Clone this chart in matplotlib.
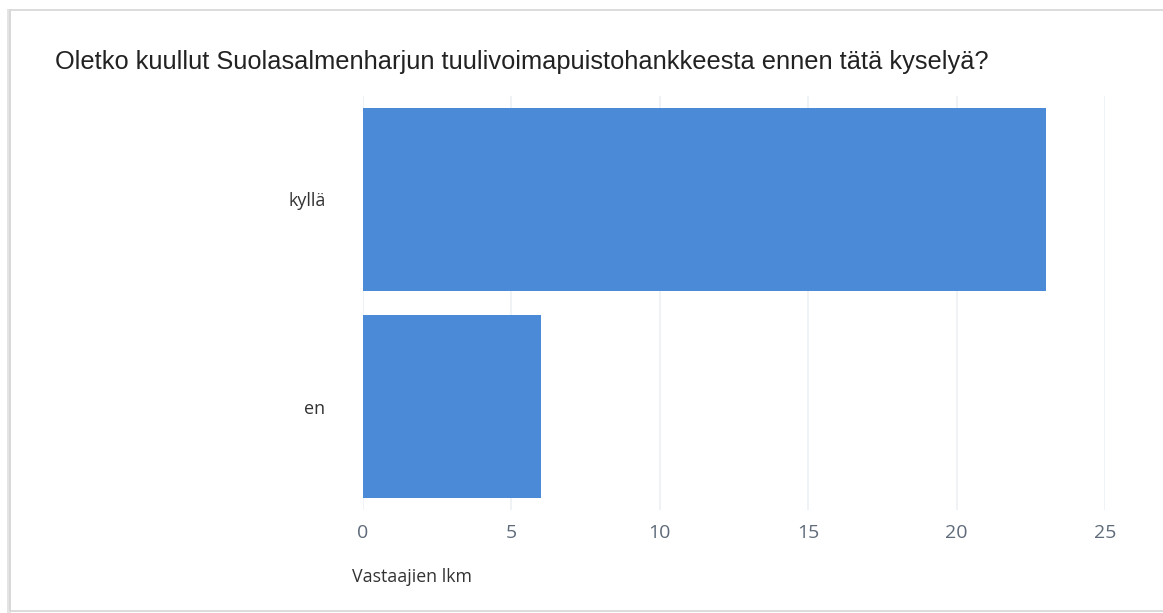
import matplotlib.pyplot as plt
import matplotlib.patches as patches

# data
categories = ['kyllä', 'en']
counts = [23, 6]
x_ticks = [0, 5, 10, 15, 20, 25]

title = 'Oletko kuullut Suolasalmenharjun tuulivoimapuistohankkeesta ennen tätä kyselyä?'
x_label = 'Vastaajien lkm'

W, H = 1163, 613
fig = plt.figure(figsize=(W / 100, H / 100), dpi=100)

# card frame with a faint shadow on the left
fig.add_artist(patches.Rectangle((7 / W, 0), 4 / W, 1 - 9 / H, transform=fig.transFigure,
                                 facecolor='#e4e4e4', edgecolor='none', zorder=-2))
fig.add_artist(patches.Rectangle((10 / W, 2 / H), 1.2, 1 - 12 / H, transform=fig.transFigure,
                                 facecolor='none', edgecolor='#d6d6d6', linewidth=1.2, zorder=-1))

ax = fig.add_axes([363 / W, 1 - 510 / H, (1105 - 363) / W, (510 - 96) / H])
ax.patch.set_alpha(0)
ypos = list(range(len(categories)))
ax.barh(ypos, counts, height=0.88, color='#4B8AD6', zorder=3)
ax.set_ylim(len(categories) - 0.5, -0.5)
ax.set_xlim(0, 25)
ax.set_yticks(ypos)
ax.set_yticklabels(categories, fontfamily='Open Sans', fontsize=13, color='#333333')
ax.set_xticks(x_ticks)
ax.set_xticklabels([str(t) for t in x_ticks], fontfamily='Open Sans', fontsize=14, color='#5f6b7a')
ax.tick_params(axis='y', length=0, pad=27)
ax.tick_params(axis='x', length=0, pad=10)
ax.grid(axis='x', color='#edf1f3', linewidth=1.2, zorder=0)
for s in ax.spines.values():
    s.set_visible(False)

fig.text(55 / W, 1 - 62 / H, title, fontfamily='Liberation Sans', fontsize=18.3,
         color='#222222', ha='left', va='center')
fig.text(352 / W, 1 - 577 / H, x_label, fontfamily='Open Sans', fontsize=12.8,
         color='#333333', ha='left', va='center')

fig.savefig('out.png', dpi=100)
